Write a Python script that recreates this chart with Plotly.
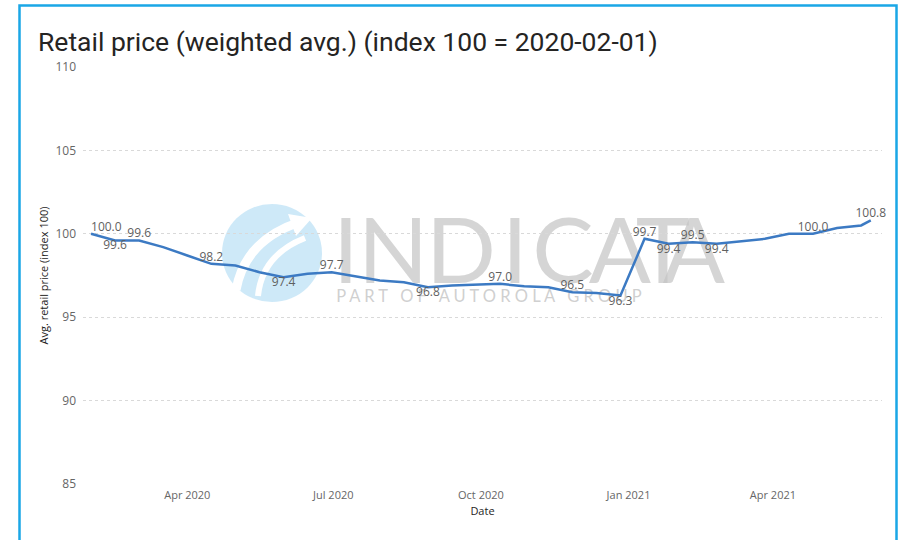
import plotly.graph_objects as go

# ---------------- data ----------------
dates = [
    "2020-02-01", "2020-02-16", "2020-03-02", "2020-03-17", "2020-04-01", "2020-04-16",
    "2020-05-01", "2020-05-16", "2020-05-31", "2020-06-15", "2020-06-30", "2020-07-15",
    "2020-07-30", "2020-08-14", "2020-08-29", "2020-09-13", "2020-09-28", "2020-10-13",
    "2020-10-28", "2020-11-12", "2020-11-27", "2020-12-12", "2020-12-27", "2021-01-11",
    "2021-01-26", "2021-02-10", "2021-02-25", "2021-03-12", "2021-03-27", "2021-04-11",
    "2021-04-26", "2021-05-11", "2021-05-26", "2021-06-01",
]
index_values = [
    100.0, 99.6, 99.6, 99.2, 98.7, 98.2,
    98.1, 97.7, 97.4, 97.6, 97.7, 97.45,
    97.2, 97.1, 96.8, 96.9, 96.95, 97.0,
    96.85, 96.8, 96.5, 96.45, 96.3, 99.7,
    99.4, 99.5, 99.4, 99.55, 99.7, 100.0,
    100.0, 100.35, 100.5, 100.8,
]
# which points carry a data label, and where
label_side = {
    0: "top right", 1: "bottom center", 2: "top center", 5: "top center",
    8: "bottom center", 10: "top center", 14: "bottom center", 17: "top center",
    20: "top center", 22: "bottom center", 23: "top center", 24: "bottom center",
    25: "top center", 26: "bottom center", 30: "top center", 33: "top center",
}
y_ticks = [85, 90, 95, 100, 105, 110]

title_text = "Retail price (weighted avg.) (index 100 = 2020-02-01)"
y_title = "Avg. retail price (index 100)"
x_title = "Date"

# ---------------- layout geometry ----------------
W, H = 899, 540
PL, PR, PT, PB = 83, 882, 67, 484          # plot area in window pixels
ML, MR, MT, MB = PL, W - PR, PT, H - PB
PW, PH = W - ML - MR, H - MT - MB


def px(x):
    return (x - ML) / PW


def py(y):
    return (H - MB - y) / PH


labels = [f"{v:.1f}" if i in label_side else "" for i, v in enumerate(index_values)]
positions = [label_side.get(i, "top center") for i in range(len(index_values))]

fig = go.Figure()
fig.add_trace(go.Scatter(
    x=dates, y=index_values,
    mode="lines+text",
    line=dict(color="#3c7ac3", width=2.5),
    text=labels, textposition=positions,
    textfont=dict(family="Open Sans, sans-serif", size=12, color="#5f5f5f"),
    cliponaxis=False,
    hoverinfo="x+y",
    showlegend=False,
))

shapes = []
# card border
shapes.append(dict(type="rect", xref="paper", yref="paper",
                   x0=px(19.5), x1=px(896.5), y0=py(600), y1=py(5.5),
                   line=dict(color="#1aa7e6", width=2.5), fillcolor="rgba(0,0,0,0)",
                   layer="above"))
# watermark logo (circle with white swoosh)
shapes.append(dict(type="circle", xref="paper", yref="paper",
                   x0=px(222), x1=px(322), y0=py(302), y1=py(204),
                   line=dict(width=0), fillcolor="rgba(190,225,246,0.75)", layer="below"))
shapes.append(dict(type="path", xref="paper", yref="paper",
                   path=f"M {px(236)},{py(290)} Q {px(245)},{py(240)} {px(300)},{py(222)}",
                   line=dict(color="white", width=9), layer="below"))
shapes.append(dict(type="path", xref="paper", yref="paper",
                   path=f"M {px(258)},{py(296)} Q {px(262)},{py(255)} {px(305)},{py(238)}",
                   line=dict(color="white", width=6), layer="below"))
shapes.append(dict(type="path", xref="paper", yref="paper",
                   path=f"M {px(288)},{py(214)} L {px(312)},{py(218)} L {px(296)},{py(236)} Z",
                   line=dict(width=0), fillcolor="white", layer="below"))
# watermark word, letter by letter
wm_letters = ["I", "N", "D", "I", "C", "A", "T", "A"]
wm_centers = [346, 393, 461, 515, 563, 620, 663, 694]
for ch, cx in zip(wm_letters, wm_centers):
    shapes.append(dict(type="rect", xref="paper", yref="paper",
                       x0=px(cx - 30), x1=px(cx + 30), y0=py(287), y1=py(205),
                       line=dict(width=0), fillcolor="rgba(0,0,0,0)", layer="below",
                       label=dict(text=ch, textposition="middle center",
                                  font=dict(family="Lato", size=92, weight=400,
                                            color="rgba(195,195,195,0.7)"))))
shapes.append(dict(type="rect", xref="paper", yref="paper",
                   x0=px(334), x1=px(644), y0=py(304), y1=py(286),
                   line=dict(width=0), fillcolor="rgba(0,0,0,0)", layer="below",
                   label=dict(text="P A R T   O F   A U T O R O L A   G R O U P",
                              textposition="middle center",
                              font=dict(family="Lato", size=16.5, weight=400,
                                        color="rgba(195,195,195,0.8)"))))

fig.update_layout(
    width=W, height=H,
    margin=dict(l=ML, r=MR, t=MT, b=MB, pad=0, autoexpand=False),
    paper_bgcolor="white", plot_bgcolor="rgba(0,0,0,0)",
    title=dict(text=title_text, x=38 / W, xanchor="left",
               y=1 - 42 / H, yanchor="middle",
               xref="container", yref="container", pad=dict(l=0, r=0, t=0, b=0),
               font=dict(family="Roboto", size=26.5, color="#252423")),
    shapes=shapes,
    showlegend=False,
)
fig.update_xaxes(
    type="date", range=["2020-01-27", "2021-06-08"], automargin=True,
    dtick="M3", tick0="2020-01-01", tickformat="%b %Y", ticklabelstandoff=3,
    showgrid=False, zeroline=False, showline=False, ticks="",
    tickfont=dict(family="Open Sans", size=11, color="#666666"),
    title=dict(text=x_title, font=dict(family="Open Sans", size=11, color="#252423"), standoff=6),
)
fig.update_yaxes(
    range=[85, 110], tickvals=y_ticks, automargin=True, ticklabelstandoff=6,
    showgrid=True, gridcolor="#d9d9d9", griddash="dot", gridwidth=1,
    zeroline=False, showline=False, ticks="",
    tickfont=dict(family="Open Sans", size=12, color="#666666"),
    title=dict(text=y_title, font=dict(family="Open Sans", size=11, color="#252423"), standoff=4),
)

fig.write_html(
    "out.html",
    config={"displayModeBar": False},
    post_script="document.body.style.margin='0';document.body.style.overflow='hidden';",
)
